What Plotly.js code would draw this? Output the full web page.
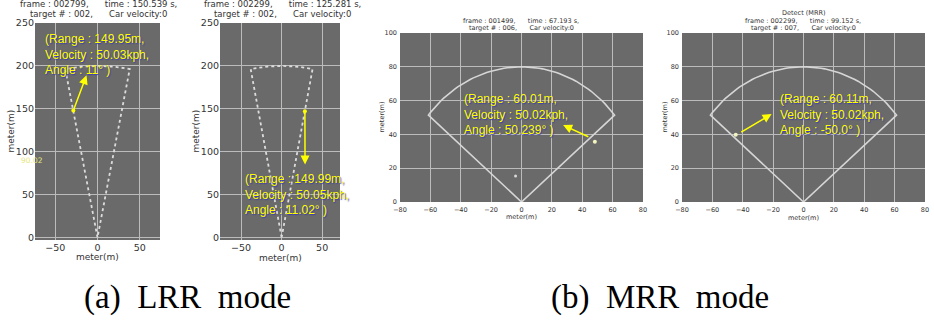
<!DOCTYPE html>
<html>
<head>
<meta charset="utf-8">
<script src="https://cdn.plot.ly/plotly-3.0.1.min.js"></script>
<style>html,body{margin:0;padding:0;background:#fff;}#chart{width:934px;height:320px;}</style>
</head>
<body>
<div id="chart"></div>
<script>
// ---- data ----
const lrrRange = 200, lrrFov = 11;      // LRR detection sector (m, deg)
const mrrRange = 80,  mrrFov = 50;      // MRR detection sector (m, deg)

const titleLines = [
  ["frame : 002799,      time : 150.539 s,", "target # : 002,      Car velocity:0"],
  ["frame : 002299,      time : 125.281 s,", "target # : 002,      Car velocity:0"],
  ["frame : 001499,      time : 67.193 s,", "target # : 006,      Car velocity:0"],
  ["Detect (MRR)", "frame : 002299,      time : 99.152 s,", "target # : 007,      Car velocity:0"]
];
const infoTexts = [
  "(Range : 149.95m,<br>Velocity : 50.03kph,<br>Angle : 11° )",
  "(Range : 149.99m,<br>Velocity : 50.05kph,<br>Angle : 11.02° )",
  "(Range : 60.01m,<br>Velocity : 50.02kph,<br>Angle : 50.239° )",
  "(Range : 60.11m,<br>Velocity : 50.02kph,<br>Angle : -50.0° )"
];
// target point (x,y), arrow tail/head (x,y), text anchor (x,y)
const targetX = [-28.6, 28.7, 48.3, -44.6];
const targetY = [148, 147, 35.6, 39.8];
const arrowTailX = [-28.6, 28.7, 45, -42];
const arrowTailY = [148, 147, 38.2, 40.8];
const arrowHeadX = [-13, 28.9, 27.4, -21];
const arrowHeadY = [189, 85, 45.5, 52];
const textX = [-64.7, -48, -39.4, -17.1];
const textY = [242, 79, 66.5, 66];
const clutterX = [-3.9];
const clutterY = [15.4];

const xTicksLRR = [-50, 0, 50];
const yTicksLRR = [0, 50, 100, 150, 200, 250];
const xTicksMRR = [-80, -60, -40, -20, 0, 20, 40, 60, 80];
const yTicksMRR = [0, 20, 40, 60, 80, 100];

// ---- sector outline from range / field of view ----
function sector(R, fov) {
  const xs = [0], ys = [0];
  for (let a = -fov; a <= fov + 1e-9; a += fov / 30) {
    const r = a * Math.PI / 180;
    xs.push(R * Math.sin(r)); ys.push(R * Math.cos(r));
  }
  xs.push(0); ys.push(0);
  return {xs, ys};
}
const sL = sector(lrrRange, lrrFov);
const sM = sector(mrrRange, mrrFov);

const W = 934, H = 320;
const px = (a, b) => [a / W, b / W];
const py = (top, bot) => [1 - bot / H, 1 - top / H];

const boxes = [
  {x: [35, 160],  y: [23, 240], xr: [-74, 74], yr: [-3, 250]},
  {x: [220, 340], y: [23, 240], xr: [-76, 72], yr: [-3, 250]},
  {x: [400, 643], y: [33, 202], xr: [-80, 80], yr: [0, 100]},
  {x: [682, 925], y: [33, 202], xr: [-80, 80], yr: [0, 100]}
];

const traces = [];
const axSuffix = ['', '2', '3', '4'];
for (let i = 0; i < 4; i++) {
  const s = i < 2 ? sL : sM;
  traces.push({
    x: s.xs, y: s.ys, type: 'scatter', mode: 'lines',
    xaxis: 'x' + axSuffix[i], yaxis: 'y' + axSuffix[i],
    line: i < 2 ? {color: '#dcdcdc', width: 1.8, dash: 'dot'} : {color: '#d6d6d6', width: 1.6},
    hoverinfo: 'skip', showlegend: false
  });
  traces.push({
    x: [targetX[i]], y: [targetY[i]], type: 'scatter', mode: 'markers',
    xaxis: 'x' + axSuffix[i], yaxis: 'y' + axSuffix[i],
    marker: {color: i < 2 ? '#ffff00' : '#f4f4c0', size: 4},
    showlegend: false
  });
}
traces.push({
  x: clutterX, y: clutterY, type: 'scatter', mode: 'markers',
  xaxis: 'x3', yaxis: 'y3', marker: {color: '#d8d8d8', size: 3}, showlegend: false
});

const layout = {
  width: W, height: H,
  margin: {l: 0, r: 0, t: 0, b: 0},
  paper_bgcolor: '#ffffff',
  plot_bgcolor: '#6a6a6a',
  showlegend: false,
  font: {family: 'DejaVu Sans, sans-serif', color: '#333'},
  annotations: []
};

for (let i = 0; i < 4; i++) {
  const b = boxes[i];
  const small = i >= 2;
  const common = {
    showgrid: true, gridcolor: '#bcbcbc', gridwidth: 1,
    zeroline: false, showline: false, ticks: '', fixedrange: true,
    tickfont: {size: small ? 6.5 : 9.5, color: '#333'}
  };
  layout['xaxis' + axSuffix[i]] = Object.assign({}, common, {
    domain: px(b.x[0], b.x[1]), range: b.xr, tickmode: 'array',
    tickvals: small ? xTicksMRR : xTicksLRR,
    ticklabelstandoff: small ? 2 : 0,
    anchor: 'y' + axSuffix[i]
  });
  layout['yaxis' + axSuffix[i]] = Object.assign({}, common, {
    domain: py(b.y[0], b.y[1]), range: b.yr, tickmode: 'array',
    tickvals: small ? yTicksMRR : yTicksLRR,
    ticklabelstandoff: small ? 2 : 0,
    anchor: 'x' + axSuffix[i]
  });
}

// titles / axis labels (positions in paper pixels)
const titleCx = [98, 282, 521, 803];
const titleLineY = [[4.5, 14], [4.5, 14], [20.5, 28], [12.7, 20.5, 28]];
const yLabX = [10, 195, 381, 664];
const xLabY = [256.5, 258, 217, 218];
for (let i = 0; i < 4; i++) {
  const b = boxes[i];
  const small = i >= 2;
  titleLines[i].forEach((t, k) => {
    layout.annotations.push({
      xref: 'paper', yref: 'paper', x: titleCx[i] / W, y: 1 - titleLineY[i][k] / H,
      xanchor: 'center', yanchor: 'middle', showarrow: false, align: 'center',
      text: t, font: {size: small ? 6.5 : 8.5, color: '#333'}
    });
  });
  layout.annotations.push({
    xref: 'paper', yref: 'paper', x: yLabX[i] / W, y: 1 - ((b.y[0] + b.y[1]) / 2) / H,
    xanchor: 'center', yanchor: 'middle', showarrow: false, textangle: -90,
    text: 'meter(m)', font: {size: small ? 6.5 : 9, color: '#333'}
  });
  layout.annotations.push({
    xref: 'paper', yref: 'paper', x: ((b.x[0] + b.x[1]) / 2) / W, y: 1 - xLabY[i] / H,
    xanchor: 'center', yanchor: 'middle', showarrow: false,
    text: 'meter(m)', font: {size: small ? 6.5 : 9, color: '#333'}
  });
  // arrow
  layout.annotations.push({
    xref: 'x' + axSuffix[i], yref: 'y' + axSuffix[i], axref: 'x' + axSuffix[i], ayref: 'y' + axSuffix[i],
    x: arrowHeadX[i], y: arrowHeadY[i], ax: arrowTailX[i], ay: arrowTailY[i],
    text: '', showarrow: true, arrowcolor: '#ffff00', arrowwidth: 1.5, arrowhead: 2, arrowsize: 1.2
  });
  // info text
  layout.annotations.push({
    xref: 'x' + axSuffix[i], yref: 'y' + axSuffix[i], x: textX[i], y: textY[i],
    xanchor: 'left', yanchor: 'top', align: 'left', showarrow: false,
    text: infoTexts[i],
    font: {family: 'Liberation Sans, Arial, sans-serif', size: 12, color: '#ffff00', shadow: '1px 1px 1px #3a3ab8'}
  });
}
// faint stray label on first plot
layout.annotations.push({
  xref: 'paper', yref: 'paper', x: 32 / W, y: 1 - 160 / H, xanchor: 'center', yanchor: 'middle',
  showarrow: false, text: '90.02', font: {size: 7.5, color: '#e6e67a'}
});
// captions
layout.annotations.push({
  xref: 'paper', yref: 'paper', x: 187 / W, y: 1 - 297 / H, xanchor: 'center', yanchor: 'middle',
  showarrow: false, text: '(a)  LRR  mode', font: {family: 'Liberation Serif, serif', size: 33, color: '#000'}
});
layout.annotations.push({
  xref: 'paper', yref: 'paper', x: 660 / W, y: 1 - 297 / H, xanchor: 'center', yanchor: 'middle',
  showarrow: false, text: '(b)  MRR  mode', font: {family: 'Liberation Serif, serif', size: 33, color: '#000'}
});

Plotly.newPlot('chart', traces, layout, {staticPlot: true, displayModeBar: false});
</script>
</body>
</html>
